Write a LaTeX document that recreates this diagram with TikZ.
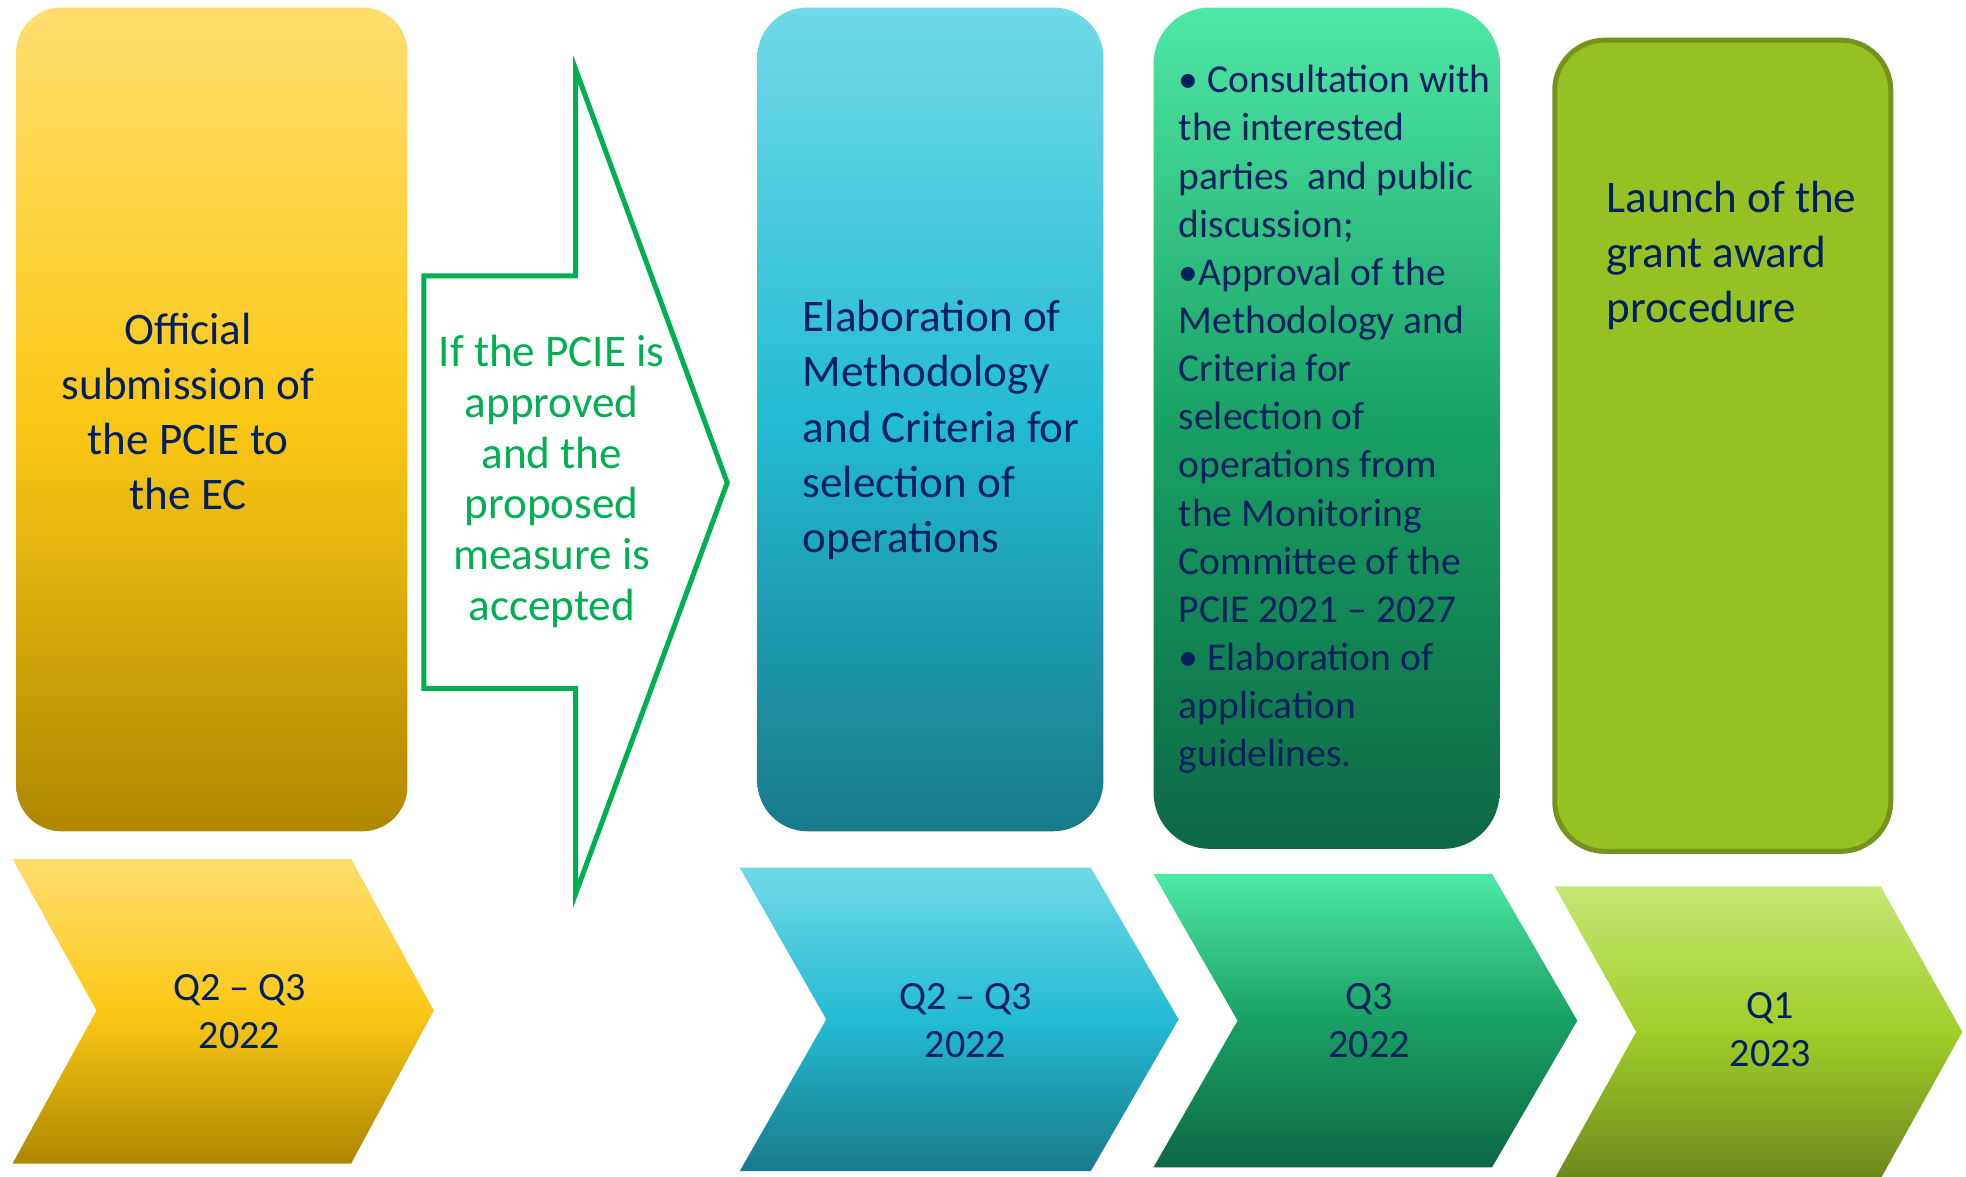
\documentclass[tikz,border=0pt]{standalone}
\usepackage{fontspec}
\setmainfont{Carlito}
\definecolor{navy}{RGB}{0,32,96}
\definecolor{ytop}{RGB}{255,221,110}
\definecolor{ymid}{RGB}{252,200,22}
\definecolor{ybot}{RGB}{175,135,0}
\definecolor{btop}{RGB}{112,217,232}
\definecolor{bmid}{RGB}{35,187,212}
\definecolor{bbot}{RGB}{24,122,138}
\definecolor{gtop}{RGB}{78,232,166}
\definecolor{gmid}{RGB}{24,160,100}
\definecolor{gbot}{RGB}{14,104,68}
\definecolor{ltop}{RGB}{198,230,115}
\definecolor{lmid}{RGB}{160,205,40}
\definecolor{lbot}{RGB}{110,135,30}
\definecolor{limefill}{RGB}{151,193,35}
\definecolor{limeedge}{RGB}{118,146,28}
\definecolor{arrowgreen}{RGB}{0,176,80}
\begin{document}
\begin{tikzpicture}[x=1pt,y=-1pt,
  yshade/.style={top color=ytop,bottom color=ybot,middle color=ymid},
  bshade/.style={top color=btop,bottom color=bbot,middle color=bmid},
  gshade/.style={top color=gtop,bottom color=gbot,middle color=gmid},
  lshade/.style={top color=ltop,bottom color=lbot,middle color=lmid},
  bigtxt/.style={text=navy,inner sep=0pt,font=\fontsize{36}{44}\selectfont},
  arrtxt/.style={text=arrowgreen,inner sep=0pt,font=\fontsize{36}{40.5}\selectfont},
  listtxt/.style={text=navy,inner sep=0pt,font=\fontsize{31.5}{38.4}\selectfont},
  chevtxt/.style={text=navy,inner sep=0pt,font=\fontsize{32}{38}\selectfont}
]
\useasboundingbox (0,0) rectangle (1568,938);
\fill[white] (0,0) rectangle (1568,938);

% column boxes
\shade[yshade,rounded corners=36] (13,6) rectangle (325,663);
\shade[bshade,rounded corners=40] (604,6) rectangle (880,663);
\shade[gshade,rounded corners=45] (920,6) rectangle (1196,677);
\draw[fill=limefill,draw=limeedge,line width=4,rounded corners=40] (1240,32) rectangle (1508,679);

% outlined arrow
\draw[draw=arrowgreen,fill=white,line width=4,line join=miter]
  (338,220) -- (459,220) -- (459,55) -- (580,385) -- (459,713) -- (459,549) -- (338,549) -- cycle;

% chevrons
\shade[yshade] (10,685) -- (280,685) -- (346,806) -- (280,928) -- (10,928) -- (77,806) -- cycle;
\shade[bshade] (590,692) -- (870,692) -- (940,813) -- (870,934) -- (590,934) -- (659,813) -- cycle;
\shade[gshade] (920,697) -- (1190,697) -- (1258,814) -- (1190,931) -- (920,931) -- (987,814) -- cycle;
\shade[lshade] (1240,707) -- (1500,707) -- (1565,823) -- (1500,940) -- (1240,940) -- (1305,823) -- cycle;

% texts
\node[bigtxt,align=center] (t1) at (150,328) {Official\\submission of\\the PCIE to\\the EC};
\node[arrtxt,align=center] (t2) at (440,384) {If the PCIE is\\approved\\and the\\proposed\\measure is\\accepted};
\node[bigtxt,align=left,anchor=west] (t3) at (640,343) {Elaboration of\\Methodology\\and Criteria for\\selection of\\operations};
\node[listtxt,align=left,anchor=west] (t4) at (940,334.5) {• Consultation with\\the interested\\parties\ \ and public\\discussion;\\•Approval of the\\Methodology and\\Criteria for\\selection of\\operations from\\the Monitoring\\Committee of the\\PCIE 2021 – 2027\\• Elaboration of\\application\\guidelines.};
\node[bigtxt,align=left,anchor=west] (t5) at (1281,204) {Launch of the\\grant award\\procedure};

\node[chevtxt,align=center] (c1) at (191,807) {Q2 – Q3\\2022};
\node[chevtxt,align=center] (c2) at (770,814) {Q2 – Q3\\2022};
\node[chevtxt,align=center] (c3) at (1092,814) {Q3\\2022};
\node[chevtxt,align=center] (c4) at (1412,821) {Q1\\2023};
\end{tikzpicture}
\end{document}
